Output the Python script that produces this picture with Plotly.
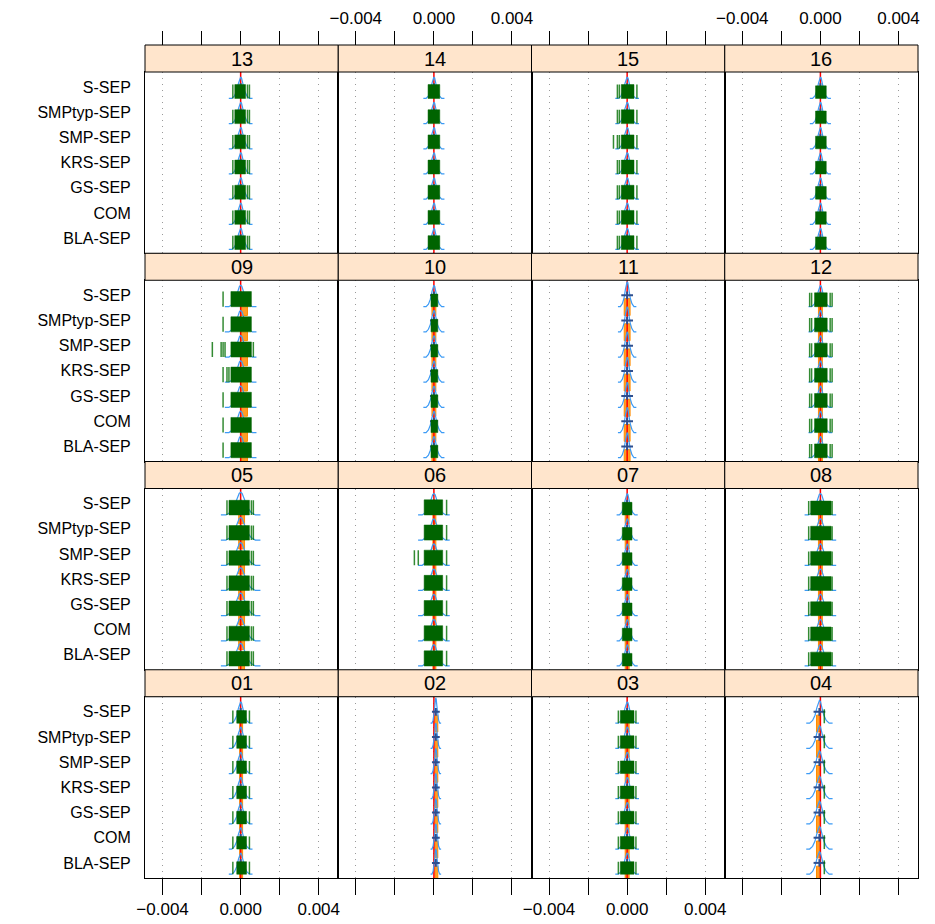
import plotly.graph_objects as go

# ---- data -------------------------------------------------------------
PANELS = ["13", "14", "15", "16",
          "09", "10", "11", "12",
          "05", "06", "07", "08",
          "01", "02", "03", "04"]

# categories listed from bottom (y=1) to top (y=7)
CATEGORIES = ["BLA-SEP", "COM", "GS-SEP", "KRS-SEP", "SMP-SEP", "SMPtyp-SEP", "S-SEP"]

X_TICKS = [-0.004, -0.002, 0.0, 0.002, 0.004]
X_TICK_TEXT = ["\u22120.004", "", "0.000", "", "0.004"]

# main block of sampled values (dark green), None = no block
GREEN_LO = [-0.00030, -0.00030, -0.00030, -0.00025,
            -0.00050, -0.00015, None, -0.00030,
            -0.00060, -0.00050, -0.00025, -0.00050,
            -0.00020, None, -0.00035, None]
GREEN_HI = [0.00025, 0.00030, 0.00035, 0.00030,
            0.00055, 0.00020, None, 0.00035,
            0.00045, 0.00045, 0.00025, 0.00055,
            0.00030, None, 0.00035, None]
GREEN_H = [0.55, 0.55, 0.55, 0.50,
           0.60, 0.50, 0.0, 0.55,
           0.58, 0.60, 0.50, 0.55,
           0.50, 0.0, 0.50, 0.0]

# isolated draws outside the main block, shared by all rows of a panel
SPIKES = [[-0.00040, 0.00035, 0.00045],
          [],
          [-0.00050, -0.00040, 0.00050],
          [],
          [-0.00090],
          [],
          [],
          [-0.00055, -0.00045, 0.00050, 0.00060],
          [-0.00070, 0.00055, 0.00065],
          [0.00065],
          [],
          [-0.00060, 0.00060],
          [-0.00040, 0.00045],
          [],
          [-0.00045, 0.00045],
          [0.00020]]

# additional isolated draws for single rows: (panel, category) -> positions
EXTRA_SPIKES = {
    ("15", "SMP-SEP"): [-0.00070],
    ("09", "SMP-SEP"): [-0.00145, -0.00100, -0.00080, 0.00065],
    ("09", "KRS-SEP"): [-0.00070, -0.00060],
    ("06", "SMP-SEP"): [-0.00100, -0.00080],
}

# second sample (orange band), None = not shown
ORANGE_LO = [None, None, None, None,
             0.00000, -0.00010, -0.00015, -0.00010,
             -0.00010, -0.00005, -0.00010, -0.00010,
             -0.00005, 0.00005, -0.00010, -0.00020]
ORANGE_HI = [None, None, None, None,
             0.00035, 0.00010, 0.00015, 0.00010,
             0.00020, 0.00010, 0.00010, 0.00010,
             0.00010, 0.00020, 0.00010, 0.00000]

# posterior mean and spread (blue cross)
CROSS_MID = [0.0, 0.0, 0.0, 0.0,
             0.0, 0.0, 0.0, 0.0,
             0.0, 0.0, 0.0, 0.0,
             0.0, 0.00010, 0.0, -0.00005]
CROSS_HALF = [0.0002, 0.0002, 0.0002, 0.0002,
              0.0002, 0.0002, 0.0003, 0.0002,
              0.0002, 0.0002, 0.0002, 0.0002,
              0.0002, 0.0002, 0.0002, 0.0003]

# density outline (light blue): centre, half-width at base, height in rows
DENS_MID = [0.0, 0.0, 0.0, 0.0,
            0.0, 0.0, 0.0, 0.0,
            0.0, 0.0, 0.0, 0.0,
            0.0, 0.00010, 0.0, -0.00005]
DENS_HALF = [0.00045, 0.00040, 0.00045, 0.00040,
             0.00060, 0.00040, 0.00035, 0.00045,
             0.00075, 0.00060, 0.00040, 0.00060,
             0.00045, 0.00020, 0.00045, 0.00050]
DENS_H = [0.85, 0.85, 0.85, 0.85,
          0.85, 0.85, 1.0, 0.85,
          0.90, 0.85, 0.85, 0.85,
          0.85, 1.0, 0.85, 0.90]
# outline profile of the density, in units of half-width / height
DENS_PROFILE_X = [-1.35, -1.0, -0.7, -0.45, -0.25, -0.1, 0.0, 0.1, 0.25, 0.45, 0.7, 1.0, 1.35]
DENS_PROFILE_Y = [0.0, 0.0, 0.12, 0.35, 0.7, 0.95, 1.0, 0.95, 0.7, 0.35, 0.12, 0.0, 0.0]

# ---- layout geometry -------------------------------------------------
W, H = 935, 924
ML, MR, MT, MB = 145, 17, 45, 46
PLOT_H = H - MT - MB
ROW_H = PLOT_H / 4
STRIP_H = 27
BASE_OFF = -0.45  # baseline of each row relative to its category centre
Y_RANGE = [0.4, 7.6]
X_RANGE = [-0.0049, 0.0050]

FONT = "Liberation Sans, Arial, Helvetica, sans-serif"
GREEN = "#006400"
ORANGE = "#FF8C00"
LIGHT_BLUE = "#3D9BF5"
DARK_BLUE = "#2F4F8F"
STRIP_BG = "#FFE5CC"


def paper_y(px):
    return (H - MB - px) / PLOT_H


fig = go.Figure()
layout = {}
shapes = []
annotations = []

for k, name in enumerate(PANELS):
    r, c = divmod(k, 4)
    n = k + 1
    xa = "x" if n == 1 else f"x{n}"
    ya = "y" if n == 1 else f"y{n}"

    top_px = MT + r * ROW_H
    panel_top = paper_y(top_px + STRIP_H)
    panel_bot = paper_y(top_px + ROW_H)

    # orange band
    ox, oy = [], []
    if ORANGE_LO[k] is not None:
        for i in range(len(CATEGORIES)):
            b = i + 1 + BASE_OFF
            y0, y1 = b - 0.35, b + 0.32
            lo, hi = ORANGE_LO[k], ORANGE_HI[k]
            ox += [lo, hi, hi, lo, lo, None]
            oy += [y0, y0, y1, y1, y0, None]
    fig.add_trace(go.Scatter(x=ox, y=oy, xaxis=xa, yaxis=ya, mode="lines",
                             fill="toself", fillcolor="rgba(255,140,0,0.85)",
                             line=dict(color=ORANGE, width=1), hoverinfo="skip",
                             showlegend=False))

    # reference line at zero
    fig.add_trace(go.Scatter(x=[0, 0], y=Y_RANGE, xaxis=xa, yaxis=ya, mode="lines",
                             line=dict(color="red", width=1.5), hoverinfo="skip",
                             showlegend=False))

    # density outlines
    dx, dy = [], []
    for i in range(len(CATEGORIES)):
        b = i + 1 + BASE_OFF
        for px_, py_ in zip(DENS_PROFILE_X, DENS_PROFILE_Y):
            dx.append(DENS_MID[k] + px_ * DENS_HALF[k])
            dy.append(b + py_ * DENS_H[k])
        dx.append(None)
        dy.append(None)
    fig.add_trace(go.Scatter(x=dx, y=dy, xaxis=xa, yaxis=ya, mode="lines",
                             line=dict(color=LIGHT_BLUE, width=1.2), hoverinfo="skip",
                             showlegend=False))

    # mean +/- spread crosses
    cx, cy = [], []
    for i in range(len(CATEGORIES)):
        yc = i + 1
        m, s = CROSS_MID[k], CROSS_HALF[k]
        cx += [m - s, m + s, None, m, m, None]
        cy += [yc, yc, None, yc - 0.15, yc + 0.15, None]
    fig.add_trace(go.Scatter(x=cx, y=cy, xaxis=xa, yaxis=ya, mode="lines",
                             line=dict(color=DARK_BLUE, width=2), hoverinfo="skip",
                             showlegend=False))

    # green block
    gx, gy = [], []
    if GREEN_LO[k] is not None:
        for i in range(len(CATEGORIES)):
            b = i + 1 + BASE_OFF
            lo, hi = GREEN_LO[k], GREEN_HI[k]
            gx += [lo, hi, hi, lo, lo, None]
            gy += [b, b, b + GREEN_H[k], b + GREEN_H[k], b, None]
    fig.add_trace(go.Scatter(x=gx, y=gy, xaxis=xa, yaxis=ya, mode="lines",
                             fill="toself", fillcolor=GREEN,
                             line=dict(color=GREEN, width=0.5), hoverinfo="skip",
                             showlegend=False))

    # isolated green draws
    sx, sy = [], []
    h_sp = GREEN_H[k] if GREEN_H[k] > 0 else 0.55
    for i, cat in enumerate(CATEGORIES):
        b = i + 1 + BASE_OFF
        for v in SPIKES[k] + EXTRA_SPIKES.get((name, cat), []):
            sx += [v, v, None]
            sy += [b, b + h_sp, None]
    fig.add_trace(go.Scatter(x=sx, y=sy, xaxis=xa, yaxis=ya, mode="lines",
                             line=dict(color="rgba(0,110,0,0.8)", width=1.5),
                             hoverinfo="skip", showlegend=False))

    # axes
    xdict = dict(domain=[c / 4, (c + 1) / 4], range=X_RANGE, anchor=ya,
                 automargin=False,
                 showline=True, mirror=True, linecolor="black", linewidth=1,
                 zeroline=False, showgrid=True, gridcolor="#9A9A9A",
                 griddash="1px,5px", gridwidth=1,
                 tickvals=X_TICKS, ticktext=X_TICK_TEXT if c in (0, 2) else [""] * 5,
                 tickfont=dict(family=FONT, size=17, color="black"))
    if r == 3:
        xdict.update(ticks="outside", ticklen=16, tickcolor="black", side="bottom",
                     showticklabels=True)
    else:
        xdict.update(ticks="", showticklabels=False)
    ydict = dict(domain=[panel_bot, panel_top], range=Y_RANGE, anchor=xa,
                 automargin=False,
                 showline=True, mirror=True, linecolor="black", linewidth=1,
                 zeroline=False, showgrid=False, ticks="",
                 tickvals=list(range(1, len(CATEGORIES) + 1)), ticktext=CATEGORIES,
                 tickfont=dict(family=FONT, size=16, color="black"))
    if c == 0:
        ydict.update(showticklabels=True, ticklabelstandoff=10)
    else:
        ydict.update(showticklabels=False)
    layout["xaxis" if n == 1 else f"xaxis{n}"] = xdict
    layout["yaxis" if n == 1 else f"yaxis{n}"] = ydict

    # strip
    s_top = paper_y(top_px)
    s_bot = paper_y(top_px + STRIP_H)
    shapes.append(dict(type="rect", xref="paper", yref="paper",
                       x0=c / 4, x1=(c + 1) / 4, y0=s_bot, y1=s_top,
                       fillcolor=STRIP_BG, line=dict(color="black", width=1)))
    annotations.append(dict(text=name, xref="paper", yref="paper",
                            x=(c + 0.5) / 4, y=(s_top + s_bot) / 2,
                            showarrow=False, xanchor="center", yanchor="middle",
                            font=dict(family=FONT, size=20, color="black")))

# top tick axes above the first row of strips
for c in range(4):
    n = 17 + c
    base = "x" if c == 0 else f"x{c + 1}"
    ybase = "y" if c == 0 else f"y{c + 1}"
    fig.add_trace(go.Scatter(x=[], y=[], xaxis=f"x{n}", yaxis=ybase,
                             hoverinfo="skip", showlegend=False))
    layout[f"xaxis{n}"] = dict(overlaying=base, anchor="free", position=1.0,
                               automargin=False,
                               side="top", range=X_RANGE, domain=[c / 4, (c + 1) / 4],
                               ticks="outside", ticklen=14, tickcolor="black",
                               tickvals=X_TICKS,
                               ticktext=X_TICK_TEXT if c in (1, 3) else [""] * 5,
                               showgrid=False, zeroline=False, showline=False,
                               tickfont=dict(family=FONT, size=17, color="black"))

fig.update_layout(
    width=W, height=H,
    margin=dict(l=ML, r=MR, t=MT, b=MB, pad=0, autoexpand=False),
    paper_bgcolor="white", plot_bgcolor="white",
    showlegend=False,
    shapes=shapes, annotations=annotations,
    **layout,
)

fig.write_html("out.html")
